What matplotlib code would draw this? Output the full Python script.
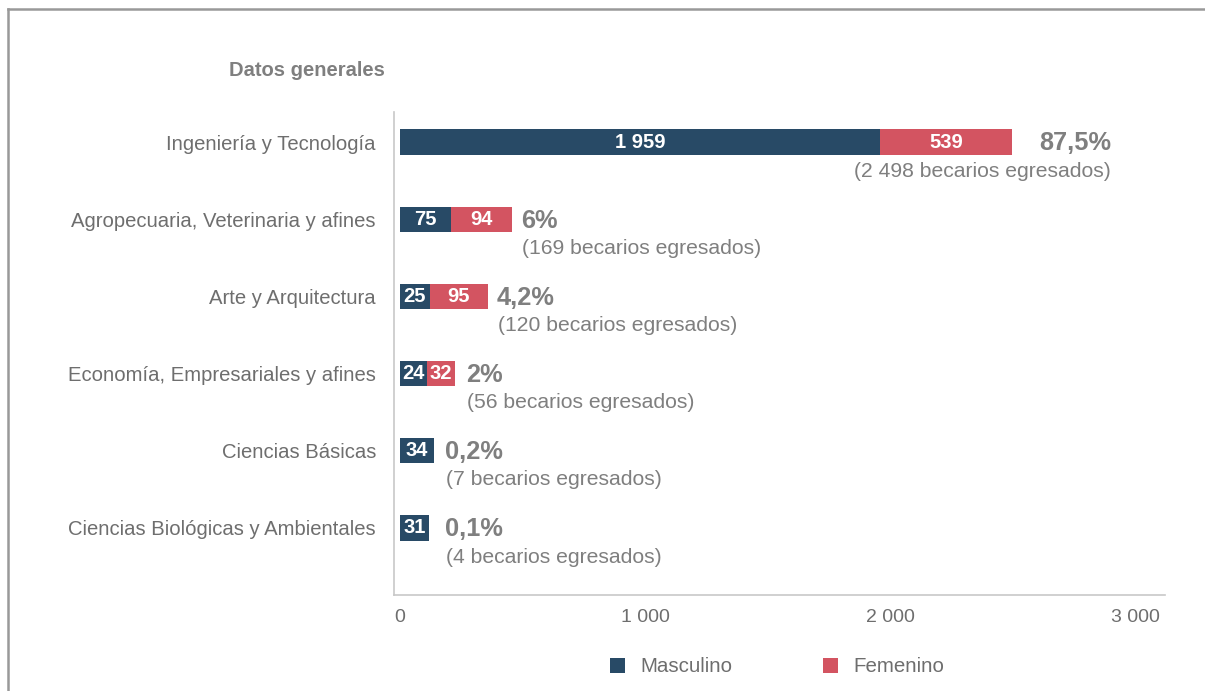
import matplotlib.pyplot as plt
from matplotlib.lines import Line2D

plt.rcParams.update({
    "font.family": "sans-serif",
    "font.sans-serif": ["Liberation Sans", "DejaVu Sans"],
})

# ---- data ----
categories = ["Ingeniería y Tecnología",
              "Agropecuaria, Veterinaria y afines",
              "Arte y Arquitectura",
              "Economía, Empresariales y afines",
              "Ciencias Básicas",
              "Ciencias Biológicas y Ambientales"]
# printed segment labels
masc_lbl = ["1 959", "75", "25", "24", "34", "31"]
fem_lbl = ["539", "94", "95", "32", "", ""]
# segment lengths as drawn against the axis scale
masc_len = [1959, 208, 122, 110, 139, 118]
fem_len = [539, 249, 237, 114, 0, 0]
pct_lbl = ["87,5%", "6%", "4,2%", "2%", "0,2%", "0,1%"]
egresados = [2498, 169, 120, 56, 7, 4]
xticks = [0, 1000, 2000, 3000]
xtick_lbl = ["0", "1 000", "2 000", "3 000"]

NAVY = "#284A66"
RED = "#D35461"
GRAY = "#7f7f7f"
TXT = "#6e6e6e"

W, H = 1205, 691
fig = plt.figure(figsize=(W / 100, H / 100), dpi=100)

# axes placed in pixel terms: left 394, right 1165, top 112, bottom 595
ax = fig.add_axes([394 / W, 1 - 595 / H, (1165 - 394) / W, (595 - 112) / H])
px_per_unit = 0.245
x0 = -6 / px_per_unit
ax.set_xlim(x0, x0 + (1165 - 394) / px_per_unit)

ypos = list(range(len(categories)))
ax.set_ylim(5.87, -0.39)

bh = 0.33
ax.barh(ypos, masc_len, height=bh, color=NAVY, label="Masculino")
ax.barh(ypos, fem_len, left=masc_len, height=bh, color=RED, label="Femenino")

for i in ypos:
    ax.text(masc_len[i] / 2, i, masc_lbl[i], ha="center", va="center",
            color="white", fontsize=14.5, fontweight="bold")
    if fem_len[i] > 0:
        ax.text(masc_len[i] + fem_len[i] / 2, i, fem_lbl[i], ha="center",
                va="center", color="white", fontsize=14.5, fontweight="bold")

# percentage + subtitle annotations
offs = [99, 9, 9, 11, 11, 16]
for i in ypos:
    end = masc_len[i] + fem_len[i]
    sub = "({} becarios egresados)".format(f"{egresados[i]:,}".replace(",", " "))
    ha = "right" if i == 0 else "left"
    ax.annotate(pct_lbl[i], xy=(end, i), xytext=(offs[i] * 0.72, -1),
                textcoords="offset points", ha=ha, va="center",
                fontsize=18.3, fontweight="bold", color=GRAY)
    ax.annotate(sub, xy=(end, i), xytext=(offs[i] * 0.72 + (0 if i == 0 else 1), -21),
                textcoords="offset points", ha=ha, va="center",
                fontsize=15.2, color=GRAY)

ax.set_yticks(ypos)
ax.set_yticklabels(categories, fontsize=14.6, color=TXT)
ax.set_xticks(xticks)
ax.set_xticklabels(xtick_lbl, fontsize=14, color=TXT)
ax.tick_params(length=0)
ax.tick_params(axis="y", pad=13)
ax.tick_params(axis="x", pad=10)
for s in ["top", "right"]:
    ax.spines[s].set_visible(False)
for s in ["left", "bottom"]:
    ax.spines[s].set_color("#c8c8c8")
    ax.spines[s].set_linewidth(1.2)

fig.text(229 / W, 1 - 70 / H, "Datos generales", fontsize=14.5,
         fontweight="bold", color=GRAY, va="center", ha="left")

leg = fig.legend(loc="center", bbox_to_anchor=(777 / W, 1 - 667 / H), ncol=2,
                 frameon=False, fontsize=14.8, handlelength=0.75,
                 handleheight=0.75, columnspacing=4.4, handletextpad=0.75)
for t in leg.get_texts():
    t.set_color(TXT)

# outer frame (cut at right and bottom)
fig.add_artist(Line2D([8 / W, 8 / W], [0, 1 - 9 / H], transform=fig.transFigure,
                      color="#999999", lw=1.8))
fig.add_artist(Line2D([8 / W, 1], [1 - 9 / H, 1 - 9 / H], transform=fig.transFigure,
                      color="#999999", lw=1.8))

fig.savefig("out.png", dpi=100)
